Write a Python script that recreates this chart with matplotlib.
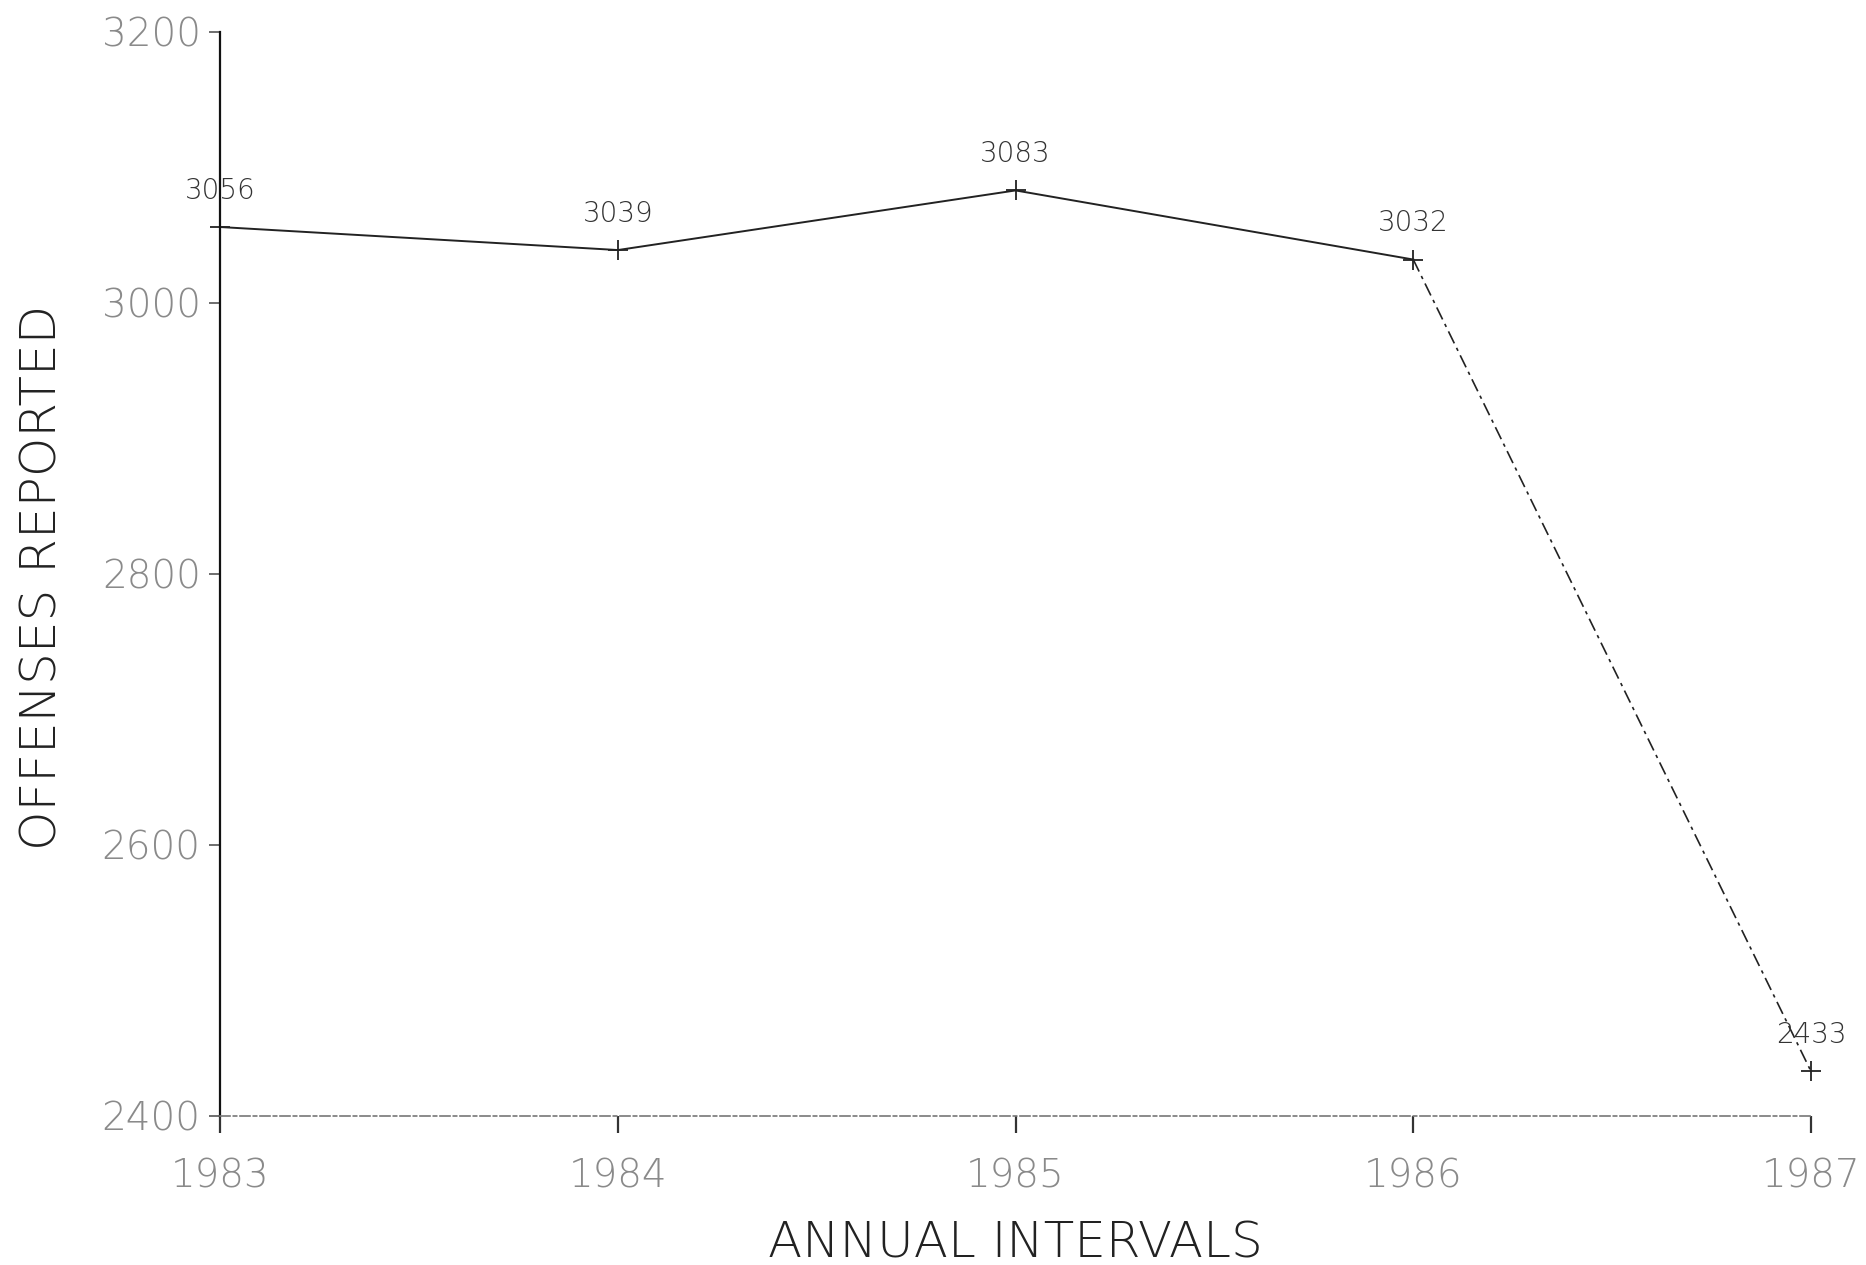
import matplotlib
matplotlib.use("Agg")
import matplotlib.pyplot as plt

years = [1983, 1984, 1985, 1986, 1987]
offenses = [3056, 3039, 3083, 3032, 2433]
yticks = [2400, 2600, 2800, 3000, 3200]
xlabel = "ANNUAL INTERVALS"
ylabel = "OFFENSES REPORTED"

plt.rcParams['font.family'] = ['DejaVu Sans']

fig = plt.figure(figsize=(18.66, 12.65), dpi=100)
ax = fig.add_axes([0.118, 0.1178, 0.8525, 0.857])

line_col = '#222222'
ax.plot(years[:4], offenses[:4], color=line_col, lw=1.4, clip_on=False)
ax.plot(years[3:], offenses[3:], color=line_col, lw=1.2, ls=(0, (8, 3, 2, 3)), clip_on=False)
ax.plot(years, offenses, ls='none', marker='+', ms=14, mew=1.3, color=line_col, clip_on=False)

for x, y in zip(years, offenses):
    ax.annotate(str(y), (x, y), xytext=(0, 16), textcoords='offset points',
                ha='center', va='bottom', fontsize=20, color='#333333', fontweight='light')

ax.set_xlim(1983, 1987)
ax.set_ylim(2400, 3200)
ax.set_xticks(years)
ax.set_xticklabels([str(y) for y in years])
ax.set_yticks(yticks)
ax.set_yticklabels([str(v) for v in yticks])

for s in ['top', 'right']:
    ax.spines[s].set_visible(False)
ax.spines['left'].set_color('#111111')
ax.spines['left'].set_linewidth(1.6)
ax.spines['bottom'].set_color('#777777')
ax.spines['bottom'].set_linewidth(1.2)
ax.spines['bottom'].set_linestyle((0, (6, 2, 2, 2)))

ax.tick_params(axis='y', direction='out', length=8, width=1.2, color='#555555',
               labelsize=28, labelcolor='#8a8a8a', pad=6)
ax.tick_params(axis='x', direction='out', length=12, width=1.6, color='#333333',
               labelsize=28, labelcolor='#8a8a8a', pad=18)
for lab in ax.get_xticklabels() + ax.get_yticklabels():
    lab.set_fontweight('light')

ax.set_xlabel(xlabel, fontsize=36, color='#222222', fontweight='light', va='center')
ax.set_ylabel(ylabel, fontsize=36, color='#222222', fontweight='light', va='center')
ax.xaxis.set_label_coords(0.5, -0.118)
ax.yaxis.set_label_coords(-0.112, 0.497)

fig.savefig('out.png', dpi=100, facecolor='white')
